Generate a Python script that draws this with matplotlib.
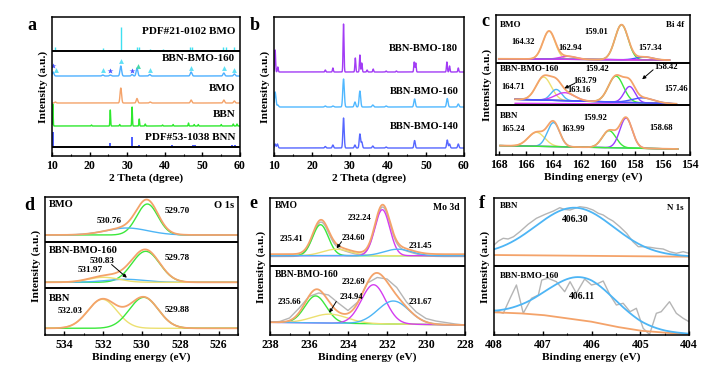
import numpy as np
import matplotlib.pyplot as plt
from matplotlib.ticker import MultipleLocator

plt.rcParams["font.family"] = ["Liberation Serif", "DejaVu Serif"]
plt.rcParams["font.weight"] = "bold"
plt.rcParams["axes.labelweight"] = "bold"
plt.rcParams["font.size"] = 8

W, H = 713, 369

# ---------------- panel a : XRD with references ----------------
PDF21_POS = [10.9, 23.5, 28.3, 32.6, 33.1, 36.0, 39.5, 46.7, 47.2, 55.5, 56.2, 58.5]
PDF21_INT = [3, 2, 23, 3, 3, 1.5, 1, 3, 3, 3, 3, 3]
S160_POS = [10.3, 23.5, 25.5, 28.3, 31.3, 32.6, 36.0, 47.0, 55.7, 58.5]
S160_INT = [4, 1, 1, 10, 1.5, 8, 1.5, 4, 3, 2]
BMO_POS = [10.9, 28.3, 32.6, 36.1, 47.0, 55.7, 58.5]
BMO_INT = [1, 15, 4.5, 1, 3, 3, 2]
BBN_POS = [10.2, 20.5, 25.5, 28.0, 31.3, 33.2, 34.8, 39.4, 42.2, 46.3, 47.8, 48.9, 55.0, 58.2, 59.2]
BBN_INT = [22, 1, 16, 1.5, 19, 7, 2, 1, 1.5, 3, 1.5, 1.5, 1.5, 2, 2]
PDF53_POS = [10.3, 20.5, 25.5, 31.3, 33.2, 42.0, 47.5, 48.0, 57.8, 58.8]
PDF53_INT = [14, 0.5, 3, 9, 1.5, 1, 1.5, 1, 1, 1.5]
TRI_POS = [11.0, 23.5, 28.3, 36.0, 47.0, 55.8, 58.5]
TRI_Y = [86, 86, 95, 86, 88, 88, 86]
STAR_POS = [10.3, 25.5, 31.3]
STAR_Y = [90, 85.5, 85.5]

# ---------------- panel b : XRD vs temperature ----------------
B180_POS = [10.3, 11.0, 23.5, 25.5, 28.3, 31.4, 32.6, 33.1, 34.5, 36.1, 39.5, 42.2, 46.9, 47.3, 55.5, 56.2, 58.5]
B180_INT = [22, 5, 2, 4, 48, 14, 17, 9, 2, 3, 1, 1, 10, 9, 10, 6, 4]
B160_POS = [10.3, 11.0, 23.5, 25.5, 28.3, 31.3, 32.6, 36.0, 39.5, 47.0, 55.6, 58.5]
B160_INT = [15, 2, 1, 1, 28, 5, 16, 2, 1, 8, 8.5, 3]
B140_POS = [10.3, 10.9, 23.5, 25.5, 28.3, 31.3, 32.6, 33.1, 36.0, 39.5, 47.0, 55.6, 56.2, 58.5]
B140_INT = [4, 4, 1.5, 3, 30, 3, 14, 6, 2, 1, 7.5, 8, 4, 4]

# ---------------- panel c : Bi 4f ----------------
C_BMO_CEN = [164.32, 162.94, 159.01, 157.34]
C_BMO_AMP = [28, 3, 35, 3]
C_BMO_SIG = [0.45, 0.6, 0.48, 0.6]
C_MIX_CEN = [164.71, 163.79, 163.16, 159.42, 158.42, 157.46]
C_MIX_AMP = [23, 11, 8, 26, 16, 5]
C_MIX_SIG = [0.55, 0.4, 0.7, 0.55, 0.4, 0.8]
C_BBN_CEN = [165.24, 163.99, 159.92, 158.68]
C_BBN_AMP = [14, 24, 17, 30]
C_BBN_SIG = [0.6, 0.45, 0.5, 0.45]

# ---------------- panel d : O 1s ----------------
D_BMO_CEN = [529.70, 530.76]
D_BMO_AMP = [31, 7]
D_BMO_SIG = [0.55, 1.1]
D_MIX_CEN = [529.78, 530.83, 531.97]
D_MIX_AMP = [31, 3, 5]
D_MIX_SIG = [0.72, 1.0, 0.8]
D_BBN_CEN = [532.03, 529.88]
D_BBN_AMP = [29, 31]
D_BBN_SIG = [0.75, 0.75]

# ---------------- panel e : Mo 3d ----------------
E_BMO_CEN = [235.41, 234.60, 232.24, 231.45]
E_BMO_AMP = [31, 6.5, 46, 6.5]
E_BMO_SIG = [0.4, 0.7, 0.38, 0.7]
E_MIX_CEN = [235.66, 234.94, 232.69, 231.67]
E_MIX_AMP = [27, 9, 39, 23]
E_MIX_SIG = [0.55, 0.9, 0.62, 0.8]
E_MIX_RAW_X = [238, 237.5, 237, 236.5, 236, 235.5, 235, 234.5, 234, 233.5, 233, 232.5,
               232, 231.5, 231, 230.5, 230, 229.5, 229, 228.5, 228]
E_MIX_RAW_Y = [12.7, 13.5, 17, 27, 38.5, 42, 40, 32, 24.5, 33, 52, 57.5,
               56, 47.5, 33, 23, 16.5, 14, 12.5, 11, 10]

# ---------------- panel f : N 1s ----------------
F_BBN_CEN, F_BBN_AMP, F_BBN_SIG = 406.35, 48, 0.8
F_MIX_CEN, F_MIX_AMP, F_MIX_SIG = 406.2, 43, 0.7
F_BBN_RAW_X = [408.00, 407.91, 407.81, 407.71, 407.60, 407.47, 407.30, 407.13, 406.95, 406.78,
               406.65, 406.55, 406.44, 406.34, 406.24, 406.10, 405.97, 405.86, 405.76, 405.66,
               405.56, 405.42, 405.28, 405.15, 405.04, 404.94, 404.80, 404.67, 404.53, 404.40,
               404.26, 404.12, 404.00]
F_BBN_RAW_Y = [90.0, 94.0, 96.7, 96.0, 98.3, 103.3, 110.7, 116.7, 120.7, 124.0,
               127.3, 125.5, 125.0, 126.7, 128.3, 127.3, 125.0, 121.7, 120.0, 116.7,
               114.0, 108.3, 101.7, 93.3, 88.3, 88.3, 87.7, 86.7, 86.0, 83.3,
               81.7, 83.3, 81.7]
F_MIX_RAW_X = [408.00, 407.81, 407.67, 407.54, 407.40, 407.23, 407.09, 407.02, 406.89, 406.72,
               406.55, 406.44, 406.31, 406.14, 406.00, 405.86, 405.76, 405.62, 405.49, 405.35,
               405.21, 405.08, 404.94, 404.81, 404.67, 404.57, 404.40, 404.26, 404.12, 404.00]
F_MIX_RAW_Y = [25, 21.7, 36.7, 50, 21.7, 36.7, 40, 55, 56.7, 53.3,
               43.3, 53.3, 41.7, 56, 50, 51.7, 54, 40, 30, 31.7,
               23.3, 26.7, 6.7, 0.5, 21.7, 23.3, 33.3, 21.7, 16.7, 13.3]
F_MIX_BG_X = [408, 407.5, 407, 406.5, 406, 405.5, 405, 404.5, 404]
F_MIX_BG_Y = [22.7, 21.8, 20, 16.7, 13.3, 8.3, 4.3, 2.3, 1]

ORANGE = "#f4a36a"
YELLOW = "#ece070"
CYAN = "#4db5f5"
GREEN = "#3be83b"
MAGENTA = "#d43cf0"
PURPLE = "#9a3cff"
BLUE = "#4a55ff"
GRAY = "#b5b5b5"


def box(l, t, r, b):
    return fig.add_axes([l / W, 1 - b / H, (r - l) / W, (b - t) / H])


def gsum(x, cen, amp, sig):
    x = np.asarray(x, dtype=float)
    out = np.zeros_like(x)
    for c, a, s in zip(np.atleast_1d(cen), np.atleast_1d(amp), np.atleast_1d(sig)):
        out += a * np.exp(-0.5 * ((x - c) / s) ** 2)
    return out


def style(ax, xlim, ylim, major, minor, xlabel):
    ax.set_xlim(*xlim)
    ax.set_ylim(*ylim)
    ax.set_yticks([])
    ax.xaxis.set_major_locator(MultipleLocator(major))
    ax.xaxis.set_minor_locator(MultipleLocator(minor))
    ax.tick_params(axis="x", which="major", direction="in", length=3, width=1, labelsize=8.5, pad=3)
    ax.tick_params(axis="x", which="minor", direction="in", length=1.8, width=0.8)
    for s in ax.spines.values():
        s.set_linewidth(1.1)
    ax.set_xlabel(xlabel, fontsize=8.2, labelpad=1)
    ax.set_ylabel("Intensity (a.u.)", fontsize=8.2, labelpad=3)


def sep(ax, y):
    ax.axhline(y, color="black", lw=1.4)


def arrow(ax, tail, head):
    ax.annotate("", xy=head, xytext=tail,
                arrowprops=dict(arrowstyle="-|>", color="black", lw=0.7,
                                mutation_scale=5, shrinkA=0, shrinkB=0))


fig = plt.figure(figsize=(W / 100, H / 100), dpi=100)

# ---- a ----
ax = box(52, 17, 240, 156)
tt = np.linspace(10, 60, 4000)
ax.vlines(PDF21_POS, 106, 106 + np.array(PDF21_INT), color="#3fe0f0", lw=1)
ax.plot(tt, 80 + gsum(tt, S160_POS, S160_INT, [0.22] * len(S160_POS)), color="#4db0ff", lw=1)
ax.plot(tt, 53 + gsum(tt, BMO_POS, BMO_INT, [0.2] * len(BMO_POS)), color=ORANGE, lw=1)
ax.plot(tt, 30 + gsum(tt, BBN_POS, BBN_INT, [0.09] * len(BBN_POS)), color="#2ee82e", lw=1)
ax.vlines(PDF53_POS, 10, 10 + np.array(PDF53_INT), color="#3a4cff", lw=1.3)
ax.plot(TRI_POS, TRI_Y, "^", color="#5ee0f5", ms=3.5, mec="none")
ax.plot([32.8], [90], "^", color="#48d8a8", ms=3.5, mec="none")
ax.plot(STAR_POS, STAR_Y, "*", color="#4a55ff", ms=4, mec="none")
sep(ax, 105)
sep(ax, 9.5)
style(ax, (10, 60), (0, 139), 10, 5, "2 Theta (dgree)")
for txt, y in [("PDF#21-0102 BMO", 125), ("BBN-BMO-160", 97.5), ("BMO", 68),
               ("BBN", 42), ("PDF#53-1038 BNN", 18.5)]:
    ax.text(58.7, y, txt, ha="right", va="center", fontsize=8)
fig.text(27 / W, 1 - 25 / H, "a", fontsize=13, fontweight="bold", va="center")

# ---- b ----
ax = box(274, 17, 464, 156)
ax.plot(tt, 84 + gsum(tt, B180_POS, B180_INT, [0.12] * len(B180_POS)), color="#a23cf5", lw=1)
ax.plot(tt, 49 + gsum(tt, B160_POS, B160_INT, [0.2] * len(B160_POS)), color="#50b8ff", lw=1)
ax.plot(tt, 8 + gsum(tt, B140_POS, B140_INT, [0.17] * len(B140_POS)), color="#5566ff", lw=1)
style(ax, (10, 60), (0, 139), 10, 5, "2 Theta (dgree)")
for txt, y in [("BBN-BMO-180", 108), ("BBN-BMO-160", 65), ("BBN-BMO-140", 30)]:
    ax.text(58.5, y, txt, ha="right", va="center", fontsize=7.6)
fig.text(250 / W, 1 - 25 / H, "b", fontsize=13, fontweight="bold", va="center")

# ---- c ----
ax = box(496, 15, 690, 155)
x = np.linspace(168, 155.5, 600)
bg = np.interp(x, [155.5, 168], [93.2, 94.5])
ax.plot(x, bg, color=BLUE, lw=1)
for c, a, s, col in zip(C_BMO_CEN, C_BMO_AMP, C_BMO_SIG, [YELLOW, MAGENTA, GREEN, BLUE]):
    ax.plot(x, bg + gsum(x, c, a, s), color=col, lw=1)
ax.plot(x, bg, color=MAGENTA, lw=1)
ax.plot(x, bg + gsum(x, C_BMO_CEN, C_BMO_AMP, C_BMO_SIG), color=ORANGE, lw=1.3)

x = np.linspace(166.8, 155.0, 600)
bg = np.interp(x, [155.0, 166.8], [49.5, 54])
ax.plot(x, np.interp(x, [155.0, 166.8], [49, 50]), color=MAGENTA, lw=1)
for c, a, s, col in zip(C_MIX_CEN, C_MIX_AMP, C_MIX_SIG, [YELLOW, CYAN, MAGENTA, GREEN, PURPLE, BLUE]):
    ax.plot(x, bg + gsum(x, c, a, s), color=col, lw=1)
ax.plot(x, bg, color=BLUE, lw=1)
ax.plot(x, bg + gsum(x, C_MIX_CEN, C_MIX_AMP, C_MIX_SIG), color=ORANGE, lw=1.3)

x = np.linspace(167.9, 154.9, 600)
bg = np.interp(x, [154.9, 167.9], [4.3, 7.7])
for c, a, s, col in zip(C_BBN_CEN, C_BBN_AMP, C_BBN_SIG, [YELLOW, CYAN, GREEN, PURPLE]):
    ax.plot(x, bg + gsum(x, c, a, s), color=col, lw=1)
ax.plot(x, bg, color=GREEN, lw=1)
ax.plot(x, bg + gsum(x, C_BBN_CEN, C_BBN_AMP, C_BBN_SIG), color=ORANGE, lw=1.3)
sep(ax, 90.7)
sep(ax, 48.3)
style(ax, (168.2, 154), (-1.7, 138.3), 2, 1, "Binding energy (eV)")
for txt, xx, y, ha in [("BMO", 167.9, 128, "left"), ("Bi 4f", 154.4, 128, "right"),
                       ("BBN-BMO-160", 167.9, 84, "left"), ("BBN", 167.9, 37, "left")]:
    ax.text(xx, y, txt, ha=ha, va="center", fontsize=6.5)
for txt, xx, y in [("164.32", 166.25, 111.7), ("162.94", 162.75, 105.7), ("159.01", 160.9, 121),
                   ("157.34", 156.95, 105.7), ("164.71", 166.95, 66.7), ("163.79", 161.65, 72.7),
                   ("163.16", 162.1, 63.3), ("159.42", 160.8, 84), ("158.42", 155.75, 86.7),
                   ("157.46", 155.0, 64), ("165.24", 166.95, 24),
                   ("163.99", 162.55, 24), ("159.92", 160.9, 35), ("158.68", 156.1, 25)]:
    ax.text(xx, y, txt, ha="center", va="center", fontsize=6.2)
arrow(ax, (162.42, 70), (163.2, 65))
arrow(ax, (156.7, 83.5), (157.5, 74))
fig.text(481 / W, 1 - 22 / H, "c", fontsize=13, fontweight="bold", va="center")

# ---- d ----
ax = box(45, 197, 238, 335)
x = np.linspace(535, 525, 600)
for base, cen, amp, sig, cols in [(100, D_BMO_CEN, D_BMO_AMP, D_BMO_SIG, [GREEN, CYAN]),
                                  (52.7, D_MIX_CEN, D_MIX_AMP, D_MIX_SIG, [GREEN, CYAN, YELLOW]),
                                  (6.7, D_BBN_CEN, D_BBN_AMP, D_BBN_SIG, [YELLOW, GREEN])]:
    for c, a, s, col in zip(cen, amp, sig, cols):
        ax.plot(x, base + gsum(x, c, a, s), color=col, lw=1)
    ax.plot(x, base + gsum(x, cen, amp, sig), color=ORANGE, lw=1.3)
sep(ax, 92.7)
sep(ax, 46.7)
style(ax, (535, 525), (0, 138), 2, 1, "Binding energy (eV)")
for txt, xx, y, ha in [("BMO", 534.8, 130.7, "left"), ("O 1s", 525.2, 129.3, "right"),
                       ("BBN-BMO-160", 534.8, 84.3, "left"), ("BBN", 534.8, 36.7, "left")]:
    ax.text(xx, y, txt, ha=ha, va="center", fontsize=7.6)
for txt, xx, y in [("530.76", 531.7, 114.3), ("529.70", 528.16, 124), ("531.97", 532.66, 65),
                   ("530.83", 532.05, 74), ("529.78", 528.16, 77.3), ("532.03", 533.7, 24),
                   ("529.88", 528.16, 25)]:
    ax.text(xx, y, txt, ha="center", va="center", fontsize=6.6)
arrow(ax, (531.55, 70.5), (530.76, 57.3))
fig.text(24 / W, 1 - 205 / H, "d", fontsize=13, fontweight="bold", va="center")

# ---- e ----
ax = box(270, 198, 465, 335)
x = np.linspace(238, 228, 600)
env = 79.3 + gsum(x, E_BMO_CEN, E_BMO_AMP, E_BMO_SIG)
ax.plot(x, env - 0.8, color=GRAY, lw=1)
for c, a, s, col in zip(E_BMO_CEN, E_BMO_AMP, E_BMO_SIG, [GREEN, YELLOW, MAGENTA, CYAN]):
    ax.plot(x, 79.3 + gsum(x, c, a, s), color=col, lw=1)
ax.plot(x, env + 1.5, color=ORANGE, lw=1.3)
bg = np.interp(x, [228, 238], [10, 12.7])
ax.plot(E_MIX_RAW_X, E_MIX_RAW_Y, color=GRAY, lw=1)
for c, a, s, col in zip(E_MIX_CEN, E_MIX_AMP, E_MIX_SIG, [GREEN, YELLOW, MAGENTA, CYAN]):
    ax.plot(x, bg + gsum(x, c, a, s), color=col, lw=1)
ax.plot(x, bg + gsum(x, E_MIX_CEN, E_MIX_AMP, E_MIX_SIG), color=ORANGE, lw=1.3)
sep(ax, 69.3)
style(ax, (238, 228), (0, 137), 2, 1, "Binding energy (eV)")
for txt, xx, y, ha in [("BMO", 237.75, 129.3, "left"), ("Mo 3d", 228.3, 127.3, "right"),
                       ("BBN-BMO-160", 237.75, 60.7, "left")]:
    ax.text(xx, y, txt, ha=ha, va="center", fontsize=6.9)
for txt, xx, y in [("235.41", 236.9, 96), ("234.60", 233.73, 97.3), ("232.24", 233.4, 116.7),
                   ("231.45", 230.3, 89.3), ("232.69", 233.7, 53.3), ("235.66", 237.0, 33.3),
                   ("234.94", 233.8, 37.7), ("231.67", 230.3, 32.7)]:
    ax.text(xx, y, txt, ha="center", va="center", fontsize=6.2)
arrow(ax, (234.33, 93.3), (234.58, 86.7))
arrow(ax, (234.6, 33.5), (234.96, 22.3))
fig.text(249 / W, 1 - 203 / H, "e", fontsize=13, fontweight="bold", va="center")

# ---- f ----
ax = box(494, 198, 689, 335)
x = np.linspace(408, 404, 400)
bg = np.interp(x, [404, 408], [78.3, 80])
ax.plot(F_BBN_RAW_X, F_BBN_RAW_Y, color=GRAY, lw=1)
ax.plot(x, bg, color=ORANGE, lw=1.3)
ax.plot(x, bg + gsum(x, F_BBN_CEN, F_BBN_AMP, F_BBN_SIG), color=CYAN, lw=1.3)
bg = np.interp(x, F_MIX_BG_X[::-1], F_MIX_BG_Y[::-1])
ax.plot(F_MIX_RAW_X, F_MIX_RAW_Y, color=GRAY, lw=1)
ax.plot(x, bg, color=ORANGE, lw=1.3)
ax.plot(x, bg + gsum(x, F_MIX_CEN, F_MIX_AMP, F_MIX_SIG), color=CYAN, lw=1.3)
sep(ax, 69)
style(ax, (408, 404), (0, 137), 1, 0.5, "Binding energy (eV)")
for txt, xx, y, ha in [("BBN", 407.88, 129.3, "left"), ("N 1s", 404.12, 127.3, "right"),
                       ("BBN-BMO-160", 407.88, 59.3, "left")]:
    ax.text(xx, y, txt, ha=ha, va="center", fontsize=6.5)
ax.text(406.34, 115.7, "406.30", ha="center", va="center", fontsize=7)
ax.text(406.2, 38.3, "406.11", ha="center", va="center", fontsize=7)
fig.text(479 / W, 1 - 203 / H, "f", fontsize=13, fontweight="bold", va="center")

fig.savefig("out.png", dpi=100)
